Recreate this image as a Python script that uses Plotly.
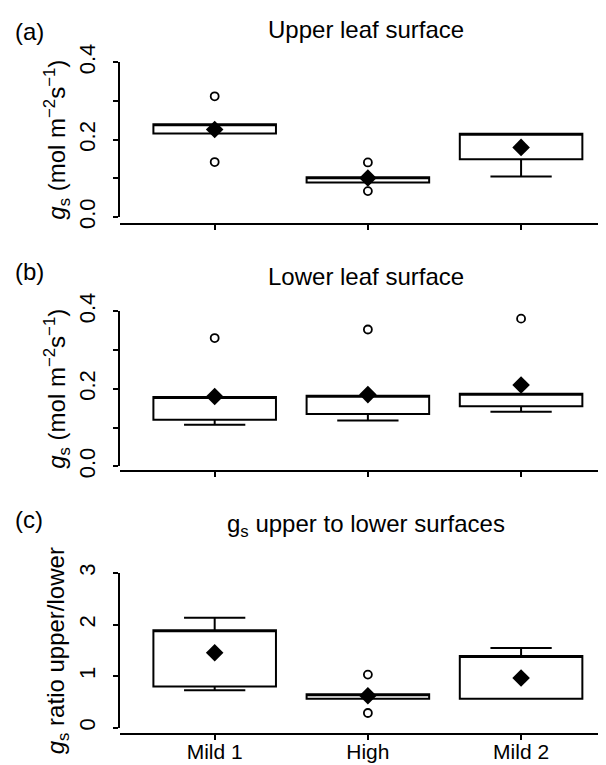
import plotly.graph_objects as go

W, H = 606, 765

categories = ["Mild 1", "High", "Mild 2"]

# (a) Upper leaf surface
up_q1 = [0.216, 0.089, 0.149]
up_med = [0.2395, 0.103, 0.215]
up_q3 = [0.2395, 0.103, 0.215]
up_lo = [0.216, 0.089, 0.105]
up_hi = [0.2395, 0.103, 0.215]
up_mean = [0.226, 0.101, 0.180]
up_out_cat = ["Mild 1", "Mild 1", "High", "High"]
up_out_val = [0.312, 0.142, 0.141, 0.067]

# (b) Lower leaf surface
lo_q1 = [0.120, 0.135, 0.155]
lo_med = [0.179, 0.182, 0.187]
lo_q3 = [0.179, 0.182, 0.187]
lo_lo = [0.107, 0.118, 0.141]
lo_hi = [0.179, 0.182, 0.187]
lo_mean = [0.180, 0.185, 0.210]
lo_out_cat = ["Mild 1", "High", "Mild 2"]
lo_out_val = [0.331, 0.353, 0.381]

# (c) ratio upper/lower
ra_q1 = [0.80, 0.563, 0.563]
ra_med = [1.89, 0.647, 1.39]
ra_q3 = [1.89, 0.647, 1.39]
ra_lo = [0.725, 0.563, 0.563]
ra_hi = [2.13, 0.647, 1.546]
ra_mean = [1.455, 0.62, 0.964]
ra_out_cat = ["High", "High"]
ra_out_val = [1.03, 0.285]

FONT = "Liberation Sans, Arial, sans-serif"

def px_y(p):
    return 1 - p / H

def px_x(p):
    return p / W

fig = go.Figure()

panels = [
    ("", up_q1, up_med, up_q3, up_lo, up_hi, up_mean, up_out_cat, up_out_val),
    ("2", lo_q1, lo_med, lo_q3, lo_lo, lo_hi, lo_mean, lo_out_cat, lo_out_val),
    ("3", ra_q1, ra_med, ra_q3, ra_lo, ra_hi, ra_mean, ra_out_cat, ra_out_val),
]

for sfx, q1, med, q3, lo, hi, mean, oc, ov in panels:
    xa, ya = "x" + sfx, "y" + sfx
    fig.add_trace(go.Box(
        x=categories, q1=q1, median=med, q3=q3, lowerfence=lo, upperfence=hi,
        width=0.8, whiskerwidth=0.5, fillcolor="white",
        line=dict(color="black", width=2), boxpoints=False,
        xaxis=xa, yaxis=ya, showlegend=False,
    ))
    fig.add_trace(go.Scatter(
        x=oc, y=ov, mode="markers",
        marker=dict(symbol="circle-open", size=8, color="black", line=dict(width=1.8, color="black")),
        xaxis=xa, yaxis=ya, showlegend=False, cliponaxis=False,
    ))
    fig.add_trace(go.Scatter(
        x=categories, y=mean, mode="markers",
        marker=dict(symbol="diamond", size=13.5, color="black", line=dict(width=0)),
        xaxis=xa, yaxis=ya, showlegend=False, cliponaxis=False,
    ))

xdom = [px_x(111.7), px_x(605)]
xrange = [-0.62, 2.6]

common_x = dict(
    domain=xdom, range=xrange, type="category", anchor="free",
    showline=True, linecolor="black", linewidth=2, ticks="outside", ticklen=5,
    tickwidth=1.5, tickcolor="black", showgrid=False, zeroline=False,
    automargin=False, tickfont=dict(family=FONT, size=21, color="black"),
    ticklabelstandoff=-6,
)
common_y = dict(
    showline=True, linecolor="black", linewidth=2, ticks="outside", ticklen=5,
    tickwidth=1.5, tickcolor="black", showgrid=False, zeroline=False,
    automargin=False, tickangle=-90, tickfont=dict(family=FONT, size=22, color="black"),
    ticklabelstandoff=9,
)

fig.update_layout(
    xaxis=dict(common_x, position=px_y(216), showticklabels=False),
    xaxis2=dict(common_x, position=px_y(463.3), showticklabels=False),
    xaxis3=dict(common_x, position=px_y(725.7), showticklabels=True),
    yaxis=dict(common_y, anchor="x", domain=[px_y(209), px_y(54.3)], range=[0, 0.4],
               tickvals=[0, 0.2, 0.4], ticktext=["0.0", "0.2", "0.4"],
               minor=dict(tickvals=[0.1, 0.3], ticks="outside", ticklen=5, tickwidth=1.5, tickcolor="black", showgrid=False)),
    yaxis2=dict(common_y, anchor="x2", domain=[px_y(458.3), px_y(303.3)], range=[0, 0.4],
                tickvals=[0, 0.2, 0.4], ticktext=["0.0", "0.2", "0.4"],
                minor=dict(tickvals=[0.1, 0.3], ticks="outside", ticklen=5, tickwidth=1.5, tickcolor="black", showgrid=False)),
    yaxis3=dict(common_y, anchor="x3", domain=[px_y(719.7), px_y(565)], range=[0, 3],
                tickvals=[0, 1, 2, 3], ticktext=["0", "1", "2", "3"]),
    width=W, height=H,
    margin=dict(l=0, r=0, t=0, b=0),
    paper_bgcolor="white", plot_bgcolor="white",
    font=dict(family=FONT, color="black"),
    showlegend=False,
)

ann = []
# panel letters
for txt, yc in [("(a)", 23), ("(b)", 263), ("(c)", 512)]:
    ann.append(dict(text=txt, x=px_x(5), y=px_y(yc), xref="paper", yref="paper",
                    xanchor="left", yanchor="middle", showarrow=False,
                    font=dict(family=FONT, size=24, color="black")))
# titles
for txt, yc in [("Upper leaf surface", 21), ("Lower leaf surface", 268),
                ("g<sub>s</sub> upper to lower surfaces", 517)]:
    ann.append(dict(text=txt, x=px_x(358), y=px_y(yc), xref="paper", yref="paper",
                    xanchor="center", yanchor="middle", showarrow=False,
                    font=dict(family=FONT, size=24, color="black")))
# y axis titles
ytitle = "<i>g</i><sub>s</sub> (mol m<sup>\u22122</sup>s<sup>\u22121</sup>)"
for txt, yc in [(ytitle, 131.7), (ytitle, 380.8),
                ("<i>g</i><sub>s</sub> ratio upper/lower", 642.3)]:
    ann.append(dict(text=txt, x=px_x(49), y=px_y(yc), xref="paper", yref="paper",
                    xanchor="center", yanchor="middle", textangle=-90, showarrow=False,
                    font=dict(family=FONT, size=24, color="black")))
fig.update_layout(annotations=ann)

fig.write_html("out.html")
